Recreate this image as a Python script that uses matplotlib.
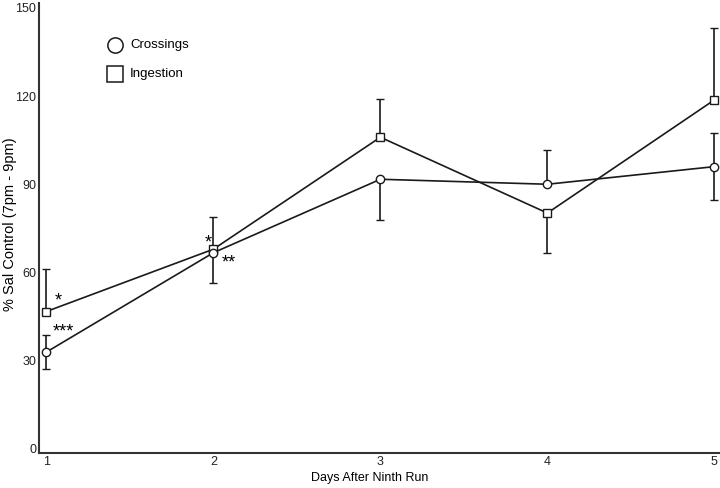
import numpy as np
import matplotlib
matplotlib.use('Agg')
import matplotlib.pyplot as plt

plt.rcParams['font.family'] = ['Liberation Sans', 'DejaVu Sans']

# data
days = [1, 2, 3, 4, 5]
crossings = [32.9, 66.7, 91.7, 90.0, 96.0]
cross_err_lo = [5.7, 10.3, 13.8, 0.0, 11.3]
cross_err_hi = [5.8, 0.0, 0.0, 11.7, 11.6]
ingestion = [46.7, 67.9, 106.0, 80.2, 118.7]
ing_err_lo = [0.0, 0.0, 0.0, 13.6, 0.0]
ing_err_hi = [14.5, 10.8, 12.9, 0.0, 24.3]
yticks = [0, 30, 60, 90, 120, 150]

fig = plt.figure(figsize=(7.2, 4.88), dpi=100)
ax = fig.add_axes([0.054, 0.072, 0.944, 0.922])

lc = '#1a1a1a'
ax.errorbar(days, ingestion, yerr=[ing_err_lo, ing_err_hi], color=lc, lw=1.2,
            marker='s', ms=6, mfc='white', mec=lc, mew=1.0,
            capsize=3, elinewidth=1.2, capthick=1.2, zorder=3)
ax.errorbar(days, crossings, yerr=[cross_err_lo, cross_err_hi], color=lc, lw=1.2,
            marker='o', ms=6, mfc='white', mec=lc, mew=1.0,
            capsize=3, elinewidth=1.2, capthick=1.2, zorder=4)

# significance stars
ax.text(1.05, ingestion[0] + 3.5, '*', fontsize=13, ha='left', va='center')
ax.text(1.04, crossings[0] + 7, '***', fontsize=13, ha='left', va='center')
ax.text(1.99, ingestion[1] + 2, '*', fontsize=13, ha='right', va='center')
ax.text(2.05, crossings[1] - 3.5, '**', fontsize=13, ha='left', va='center')

# legend drawn as text + markers
ax.plot([1.41], [137.5], marker='o', ms=11, mfc='white', mec=lc, mew=1.1,
        ls='none', clip_on=False)
ax.text(1.5, 137.5, 'Crossings', fontsize=9.5, va='center')
ax.plot([1.41], [127.6], marker='s', ms=11, mfc='white', mec=lc, mew=1.1,
        ls='none', clip_on=False)
ax.text(1.5, 127.6, 'Ingestion', fontsize=9.5, va='center')

ax.set_xlim(0.955, 5.025)
ax.set_ylim(-1.4, 151.7)
ax.set_xticks(days)
ax.set_yticks(yticks)
ax.tick_params(length=0, labelsize=9, pad=2, colors='#222222')
for s in ['top', 'right']:
    ax.spines[s].set_visible(False)
for s in ['left', 'bottom']:
    ax.spines[s].set_linewidth(1.5)
    ax.spines[s].set_color('#333333')

ax.set_xlabel('Days After Ninth Run', fontsize=9)
ax.set_ylabel('% Sal Control (7pm - 9pm)', fontsize=10.5)
ax.xaxis.set_label_coords(0.487, -0.042)
ax.yaxis.set_label_coords(-0.032, 0.509)

fig.savefig('out.png', dpi=100)
